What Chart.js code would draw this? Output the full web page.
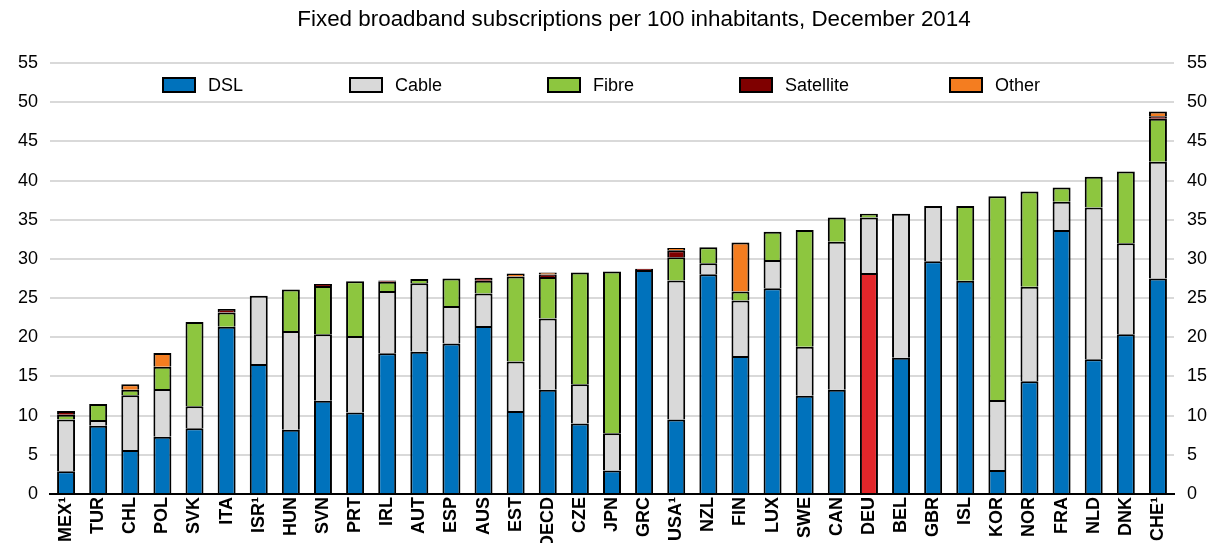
<!DOCTYPE html>
<html>
<head>
<meta charset="utf-8">
<script src="https://cdn.jsdelivr.net/npm/chart.js@4.4.0/dist/chart.umd.min.js"></script>
<style>
  html, body { margin: 0; padding: 0; background: #fff; }
  #wrap { width: 1215px; height: 543px; }
</style>
</head>
<body>
<div id="wrap"><canvas id="bbChart"></canvas></div>
<script>
// Fixed broadband subscriptions per 100 inhabitants, Dec 2014
const chartTitle = 'Fixed broadband subscriptions per 100 inhabitants, December 2014';

const countries = ['MEX¹', 'TUR', 'CHL', 'POL', 'SVK', 'ITA', 'ISR¹', 'HUN', 'SVN', 'PRT', 'IRL', 'AUT',
    'ESP', 'AUS', 'EST', 'OECD', 'CZE', 'JPN', 'GRC', 'USA¹', 'NZL', 'FIN', 'LUX', 'SWE', 'CAN', 'DEU',
    'BEL', 'GBR', 'ISL', 'KOR', 'NOR', 'FRA', 'NLD', 'DNK', 'CHE¹'];

const dsl = [2.9, 8.7, 5.6, 7.3, 8.4, 21.35, 16.6, 8.2, 11.9, 10.4, 17.95, 18.15,
    19.2, 21.45, 10.6, 13.3, 9.0, 3.0, 28.6, 9.5, 28.05, 17.6, 26.25, 12.55, 13.3, 28.2,
    17.4, 29.7, 27.2, 3.05, 14.4, 33.7, 17.2, 20.4, 27.5];
const cable = [6.6, 0.75, 7.0, 6.1, 2.8, 0, 8.7, 12.6, 8.5, 9.75, 7.95, 8.75,
    4.8, 4.15, 6.3, 9.1, 5.0, 4.75, 0, 17.75, 1.4, 7.1, 3.6, 6.25, 18.9, 7.1,
    18.35, 7.05, 0, 8.95, 12.05, 3.6, 19.35, 11.6, 14.9];
const fibre = [0.6, 2.05, 0.7, 2.85, 10.75, 1.8, 0, 5.3, 6.15, 7.0, 1.2, 0.55,
    3.5, 1.6, 10.85, 5.3, 14.25, 20.65, 0, 2.95, 2.05, 1.15, 3.6, 14.9, 3.1, 0.45,
    0, 0, 9.55, 26.0, 12.15, 1.8, 3.95, 9.15, 5.5];
const satellite = [0.5, 0, 0, 0, 0, 0.45, 0, 0, 0.25, 0, 0.15, 0,
    0, 0.4, 0, 0.3, 0, 0, 0.15, 0.9, 0, 0, 0, 0, 0, 0,
    0, 0, 0, 0, 0, 0, 0, 0, 0.3];
const other = [0, 0, 0.7, 1.75, 0, 0, 0, 0, 0, 0, 0, 0,
    0, 0, 0.4, 0.25, 0, 0, 0, 0.3, 0, 6.25, 0, 0, 0, 0,
    0, 0, 0, 0, 0, 0, 0, 0, 0.6];

const yTicks = [0, 5, 10, 15, 20, 25, 30, 35, 40, 45, 50, 55];

// legend box left edges (px) -- drawn inside the plot like the original
const legendX = [163, 350, 548, 740, 950];

const BLUE = '#0072BC', GREY = '#D9D9D9', GREEN = '#8DC63F', DARKRED = '#7F0000', ORANGE = '#F47D20', RED = '#E3262A';

// title + legend, placed by hand like the source figure
const overlay = {
    id: 'overlay',
    afterDraw(chart) {
        const ctx = chart.ctx;
        ctx.save();
        ctx.fillStyle = '#000';
        ctx.textAlign = 'center';
        ctx.textBaseline = 'middle';
        ctx.font = '22.4px "Liberation Sans", Arial, sans-serif';
        ctx.fillText(chartTitle, 634, 20);

        ctx.textAlign = 'left';
        ctx.font = '18px "Liberation Sans", Arial, sans-serif';
        chart.data.datasets.forEach((ds, i) => {
            const x = legendX[i];
            ctx.fillStyle = ds.legendColor;
            ctx.fillRect(x, 78, 32, 14);
            ctx.strokeStyle = '#000';
            ctx.lineWidth = 2;
            ctx.strokeRect(x, 78, 32, 14);
            ctx.fillStyle = '#000';
            ctx.fillText(ds.label, x + 45, 86);
        });
        ctx.restore();
    }
};

function makeSet(label, values, color) {
    return {
        label: label,
        data: values,
        legendColor: color,
        backgroundColor: color,
        borderColor: '#000',
        borderWidth: 2,
        barPercentage: 0.56,
        categoryPercentage: 1.0
    };
}

const dslSet = makeSet('DSL', dsl, BLUE);
// Germany highlighted
dslSet.backgroundColor = countries.map(c => c === 'DEU' ? RED : BLUE);

const tickFont = { family: '"Liberation Sans", Arial, sans-serif', size: 18 };

new Chart(document.getElementById('bbChart'), {
    type: 'bar',
    data: {
        labels: countries,
        datasets: [
            dslSet,
            makeSet('Cable', cable, GREY),
            makeSet('Fibre', fibre, GREEN),
            makeSet('Satellite', satellite, DARKRED),
            makeSet('Other', other, ORANGE)
        ]
    },
    options: {
        responsive: true,
        maintainAspectRatio: false,
        animation: false,
        layout: { padding: { top: 63, left: 0, right: 0, bottom: 0 } },
        plugins: {
            legend: { display: false },
            tooltip: { enabled: false },
            title: { display: false }
        },
        scales: {
            x: {
                stacked: true,
                grid: { display: false, drawTicks: false },
                border: { color: '#000', width: 2 },
                afterFit: s => { s.height = 49; },
                ticks: {
                    color: '#000',
                    autoSkip: false,
                    maxRotation: 90,
                    minRotation: 90,
                    padding: 3,
                    font: { family: '"Liberation Sans", Arial, sans-serif', size: 18, weight: 'bold' }
                }
            },
            y: {
                stacked: true,
                min: 0,
                max: 55,
                afterFit: s => { s.width = 50; },
                afterBuildTicks: s => { s.ticks = yTicks.map(v => ({ value: v })); },
                grid: { color: '#D9D9D9', lineWidth: 2, drawTicks: false },
                border: { display: false },
                ticks: { color: '#000', padding: 12, font: tickFont }
            },
            y2: {
                position: 'right',
                min: 0,
                max: 55,
                afterFit: s => { s.width = 41; },
                afterBuildTicks: s => { s.ticks = yTicks.map(v => ({ value: v })); },
                grid: { display: false, drawTicks: false },
                border: { display: false },
                ticks: { color: '#000', padding: 13, font: tickFont }
            }
        }
    },
    plugins: [overlay]
});
</script>
</body>
</html>
